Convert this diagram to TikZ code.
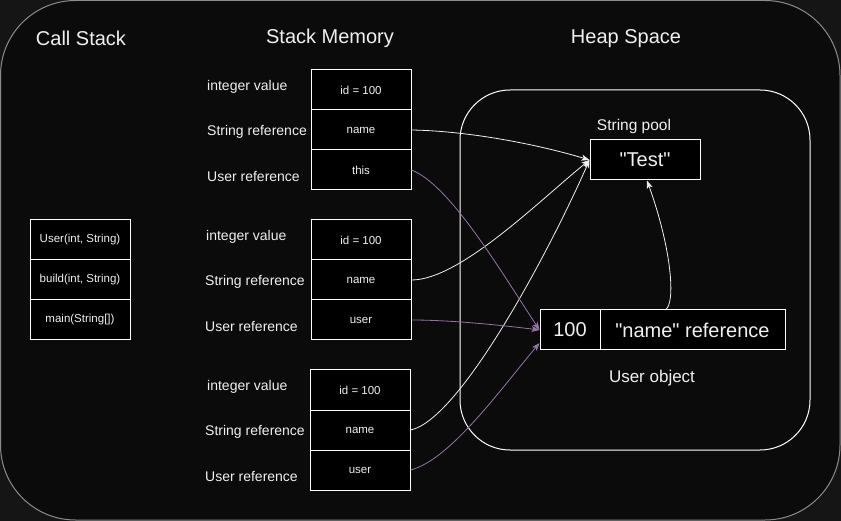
\documentclass[tikz,border=0pt]{standalone}
\usepackage{fontspec}
\setmainfont{Liberation Sans}
\usetikzlibrary{arrows.meta,positioning}
\definecolor{bgc}{RGB}{21,21,21}
\definecolor{pc}{RGB}{11,11,11}
\definecolor{fc}{RGB}{140,140,140}
\definecolor{tc}{RGB}{240,240,240}
\definecolor{uc}{RGB}{150,115,166}
\newcommand\dq{\XeTeXglyph\XeTeXcharglyph"22\relax}
\tikzset{cell/.style={draw=white,fill=black,line width=1pt,minimum width=100pt,minimum height=40pt,inner sep=0pt,text=tc,font=\fontsize{11.5}{13}\selectfont},
 lbl/.style={anchor=west,inner sep=0pt,text=tc,font=\fontsize{14}{16}\selectfont},
 ttl/.style={text=tc,font=\fontsize{20}{22}\selectfont},
 big/.style={cell,font=\fontsize{20}{22}\selectfont},
 sub/.style={text=tc,font=\fontsize{16}{18}\selectfont},
 warr/.style={-{Stealth[length=8pt,width=6pt,inset=2pt]},draw=tc,line width=.8pt},
 parr/.style={warr,draw=uc}}

\begin{document}
\begin{tikzpicture}[x=1pt,y=-1pt]
\useasboundingbox (0,0) rectangle (841,521);
\fill[bgc] (0,0) rectangle (841,521);
\draw[fc,fill=pc,line width=1pt,rounded corners=75pt] (0.5,0.5) rectangle (840,520);
\draw[white,line width=1pt,rounded corners=50pt] (460,90) rectangle (810,450);
% titles
\node[ttl] (cst) at (81,38.5) {Call Stack};
\node[ttl] (smt) at (330,38.5) {Stack Memory};
\node[ttl] (hst) at (626,38.5) {Heap Space};
% call stack
\node[cell] (c1) at (80,240) {User(int, String)};
\node[cell] (c2) at (80,280) {build(int, String)};
\node[cell] (c3) at (80,320) {main(String[])};
% stack frame 1
\node[cell] (a1) at (361,90) {id = 100};
\node[cell] (a2) at (361,130) {name};
\node[cell] (a3) at (361,170) {this};
\node[lbl] (la1) at (207,87) {integer value};
\node[lbl] (la2) at (207,132) {String reference};
\node[lbl] (la3) at (207,177) {User reference};
% stack frame 2
\node[cell] (b1) at (361,240) {id = 100};
\node[cell] (b2) at (361,280) {name};
\node[cell] (b3) at (361,320) {user};
\node[lbl] (lb1) at (206,237) {integer value};
\node[lbl] (lb2) at (205,282) {String reference};
\node[lbl] (lb3) at (205,327) {User reference};
% stack frame 3
\node[cell] (d1) at (360,390) {id = 100};
\node[cell] (d2) at (360,430) {name};
\node[cell] (d3) at (360,470) {user};
\node[lbl] (ld1) at (207,387) {integer value};
\node[lbl] (ld2) at (205,432) {String reference};
\node[lbl] (ld3) at (205,477) {User reference};
% heap
\node[sub,font=\fontsize{15.5}{17}\selectfont] (spl) at (634,126) {String pool};
\node[big,minimum width=110pt] (tst) at (645,160) {\dq Test\dq};
\node[big,minimum width=60pt] (uid) at (570,330) {100};
\node[big,minimum width=185pt] (unm) at (692.5,330) {\dq name\dq{} reference};
\node[sub,font=\fontsize{17}{19}\selectfont] (uob) at (652,378) {User object};
% references
\draw[warr] (a2.east) .. controls (470,131) and (540,145) .. (tst.west);
\draw[warr] (b2.east) .. controls (460,280) and (540,200) .. (tst.west);
\draw[warr] (d2.east) .. controls (460,420) and (550,250) .. (tst.west);
\draw[parr] (a3.east) .. controls (450,185) and (500,270) .. (uid.west);
\draw[parr] (b3.east) .. controls (450,320) and (500,325) .. (uid.west);
\draw[parr] (d3.east) .. controls (450,460) and (500,390) .. ([yshift=-13pt]uid.west);
\draw[warr] (665,310) .. controls (676,305) and (672,250) .. ([xshift=2pt]tst.south);
\end{tikzpicture}
\end{document}
